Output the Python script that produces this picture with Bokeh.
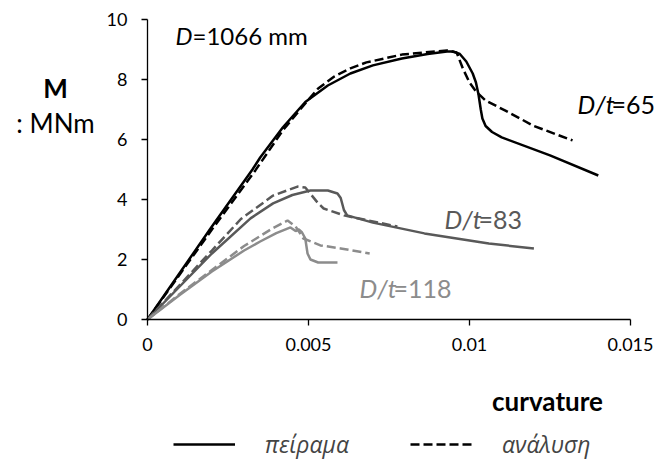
from bokeh.plotting import figure
from bokeh.models import Range1d, FixedTicker, Label, Legend, LegendItem
from bokeh.embed import file_html
from bokeh.resources import INLINE

# ---- data (curvature, M [MNm]) ----
exp65_x = [0, 0.001, 0.002, 0.00326, 0.0035, 0.0042, 0.0049, 0.0056, 0.0063, 0.0070, 0.0079, 0.0087, 0.0093,
           0.0095, 0.0097, 0.0099, 0.0101, 0.0102, 0.01028, 0.01035, 0.0104, 0.0105, 0.0107, 0.0110, 0.0125, 0.0140]
exp65_y = [0, 1.55, 3.1, 5.0, 5.4, 6.4, 7.25, 7.8, 8.2, 8.47, 8.7, 8.85, 8.93,
           8.93, 8.85, 8.6, 8.2, 7.9, 7.5, 7.0, 6.7, 6.45, 6.25, 6.07, 5.47, 4.8]
ana65_x = [0, 0.001, 0.002, 0.00335, 0.0042, 0.00484, 0.0053, 0.0058, 0.0063, 0.0068, 0.0079, 0.0093,
           0.0096, 0.0098, 0.0100, 0.0102, 0.0105, 0.0111, 0.0120, 0.0132]
ana65_y = [0, 1.5, 3.0, 4.97, 6.3, 7.13, 7.7, 8.1, 8.37, 8.57, 8.83, 8.97,
           8.9, 8.35, 7.9, 7.6, 7.3, 6.97, 6.45, 5.97]

exp83_x = [0, 0.001, 0.002, 0.0032, 0.0039, 0.0045, 0.00506, 0.0056, 0.0059, 0.0060, 0.0061, 0.0062, 0.0070, 0.0086, 0.0106, 0.0120]
exp83_y = [0, 1.1, 2.2, 3.37, 3.87, 4.15, 4.3, 4.3, 4.2, 4.05, 3.65, 3.47, 3.23, 2.87, 2.53, 2.37]
ana83_x = [0, 0.001, 0.002, 0.0029, 0.0039, 0.00466, 0.0049, 0.00528, 0.00547, 0.0061, 0.00776]
ana83_y = [0, 1.15, 2.3, 3.35, 4.13, 4.43, 4.4, 3.9, 3.7, 3.47, 3.1]

exp118_x = [0, 0.001, 0.002, 0.003, 0.0035, 0.004, 0.00444, 0.0046, 0.0047, 0.0048, 0.0049, 0.00497, 0.00506, 0.0053, 0.0059]
exp118_y = [0, 0.82, 1.6, 2.3, 2.6, 2.88, 3.07, 2.95, 3.0, 2.9, 2.7, 2.2, 2.0, 1.9, 1.9]
ana118_x = [0, 0.001, 0.002, 0.003, 0.0039, 0.00435, 0.0046, 0.00484, 0.00537, 0.0060, 0.0069]
ana118_y = [0, 0.85, 1.65, 2.45, 3.05, 3.3, 3.1, 2.7, 2.47, 2.37, 2.2]

x_ticks = [0, 0.005, 0.01, 0.015]
x_tick_labels = ["0", "0.005", "0.01", "0.015"]
y_ticks = [0, 2, 4, 6, 8, 10]

BLACK = "#000000"
DARK = "#595959"
LIGHT = "#8c8c8c"
FONT = "Lato"
LEG_FONT = "Open Sans"
DASH = "9 4"
LW = 2.5

W, H = 664, 459
# frame covers the whole canvas; axes are pinned at 0 and bounded to the data span
FL, FR, FT, FB = 147, 630, 19, 319  # pixel positions of x=0, x=0.015, y=10, y=0
kx = 0.015 / (FR - FL)
ky = 10.0 / (FB - FT)
x_range = Range1d(-FL * kx, (W - FL) * kx)
y_range = Range1d(-(H - FB) * ky, FB * ky)

p = figure(width=W, height=H, output_backend="svg", toolbar_location=None,
           x_range=x_range, y_range=y_range,
           min_border_left=0, min_border_right=0, min_border_top=0, min_border_bottom=0)
p.outline_line_color = None
p.grid.grid_line_color = None
p.background_fill_color = "white"
p.border_fill_color = "white"

xa, ya = p.xaxis[0], p.yaxis[0]
xa.fixed_location = 0
ya.fixed_location = 0
xa.bounds = (0, 0.015)
ya.bounds = (0, 10)
for ax in (xa, ya):
    ax.axis_line_color = "black"
    ax.axis_line_width = 1.3
    ax.major_tick_line_color = "black"
    ax.major_tick_line_width = 1.3
    ax.major_tick_out = 6
    ax.major_tick_in = 0
    ax.minor_tick_line_color = None
    ax.major_label_text_font = FONT
    ax.major_label_text_font_size = "18px"
    ax.major_label_text_color = "black"
xa.major_label_standoff = 12
ya.major_label_standoff = 14

xa.ticker = FixedTicker(ticks=x_ticks)
xa.major_label_overrides = {t: l for t, l in zip(x_ticks, x_tick_labels)}
ya.ticker = FixedTicker(ticks=y_ticks)

r_exp = p.line(exp65_x, exp65_y, line_color=BLACK, line_width=LW)
r_ana = p.line(ana65_x, ana65_y, line_color=BLACK, line_width=LW, line_dash=DASH)
p.line(exp83_x, exp83_y, line_color=DARK, line_width=LW)
p.line(ana83_x, ana83_y, line_color=DARK, line_width=LW, line_dash=DASH)
p.line(exp118_x, exp118_y, line_color=LIGHT, line_width=LW)
p.line(ana118_x, ana118_y, line_color=LIGHT, line_width=LW, line_dash=DASH)

def lab(text, X, Y, size="25px", style="normal", color="black", align="left"):
    p.add_layout(Label(x=X, y=H - Y, x_units="screen", y_units="screen", text=text,
                       text_font=FONT, text_font_size=size, text_font_style=style,
                       text_color=color, text_align=align, text_baseline="alphabetic"))

lab("D", 175, 35, size="24px", style="italic")
lab("=1066 mm", 192, 35, size="24px")
lab("D/t", 577, 103, style="italic")
lab("=65", 611, 103)
lab("D/t", 444, 218, style="italic", color=DARK)
lab("=83", 478, 218, color=DARK)
lab("D/t", 359, 287, style="italic", color=LIGHT)
lab("=118", 393, 287, color=LIGHT)
lab("M", 55, 87, size="26px", style="bold", align="center")
lab(": MNm", 55, 122, size="26px", align="center")
lab("curvature", 547, 400, size="26px", style="bold", align="center")

legend = Legend(items=[LegendItem(label="πείραμα", renderers=[r_exp]),
                       LegendItem(label="ανάλυση", renderers=[r_ana])],
                location=(173, -1), orientation="horizontal",
                glyph_width=62, glyph_height=20, label_height=20,
                label_standoff=30, spacing=61, padding=0, margin=0,
                border_line_alpha=0, background_fill_alpha=0,
                label_text_font=LEG_FONT, label_text_font_style="italic",
                label_text_font_size="23px")
p.add_layout(legend, "center")

open("out.html", "w").write(file_html(p, INLINE))
